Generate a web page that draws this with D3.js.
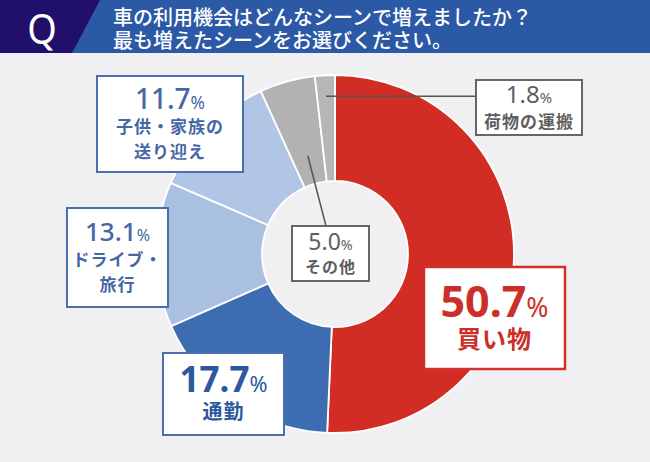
<!DOCTYPE html>
<html>
<head>
<meta charset="utf-8">
<script src="https://cdn.jsdelivr.net/npm/d3@7"></script>
<style>
  html, body { margin: 0; padding: 0; background: #f0f0f2; }
  svg { display: block; font-family: "Noto Sans CJK JP", "Noto Sans", sans-serif; }
</style>
</head>
<body>
<div id="chart"></div>
<script>
// data
var categories = ['買い物', '通勤', 'ドライブ・旅行', '子供・家族の送り迎え', 'その他', '荷物の運搬']
var values = [50.7, 17.7, 13.1, 11.7, 5.0, 1.8]
var labelLines = [['買い物'], ['通勤'], ['ドライブ・', '旅行'], ['子供・家族の', '送り迎え'], ['その他'], ['荷物の運搬']]
var titleLines = ['車の利用機会はどんなシーンで増えましたか？', '最も増えたシーンをお選びください。']

var colors = ['#d22d25', '#3e6cb2', '#a9c0e0', '#b1c5e4', '#b2b2b2', '#b6b6b6']

// label boxes: x, y, w, h, colours, font sizes
var boxes = [
    {x: 424, y: 267, w: 141, h: 102, stroke: '#d2302a', text: '#cc2f28', sw: 2.5, num: 43, numW: 700, txt: 24, lead: null},
    {x: 163, y: 353, w: 121, h: 82, stroke: '#4a6fae', text: '#2d579e', sw: 2, num: 35, numW: 700, txt: 20, lead: null},
    {x: 67, y: 208, w: 101, h: 99, stroke: '#4a6fae', text: '#4567a6', sw: 2, num: 26, numW: 500, txt: 17, lead: null},
    {x: 97, y: 76, w: 146, h: 96, stroke: '#4a6fae', text: '#4567a6', sw: 2, num: 28, numW: 500, txt: 17, lead: null},
    {x: 292, y: 226, w: 77, h: 55, stroke: '#666', text: '#5e5e5e', sw: 2, num: 23, numW: 400, txt: 16, lead: {r: 102, to: [326, 226]}},
    {x: 476, y: 80, w: 106, h: 55, stroke: '#666', text: '#5e5e5e', sw: 2, num: 24, numW: 400, txt: 17, lead: {r: 158, to: [476, null]}}
]

var width = 650
var height = 462
var cx = 335
var cy = 254
var outerR = 179
var innerR = 73

var svg = d3.select('#chart')
    .append('svg')
    .attr('width', width)
    .attr('height', height)

svg.append('rect')
    .attr('width', width)
    .attr('height', height)
    .attr('fill', '#f0f0f2')

// header band
svg.append('rect')
    .attr('x', 0)
    .attr('y', 0)
    .attr('width', width)
    .attr('height', 53)
    .attr('fill', '#2b59a5')
svg.append('path')
    .attr('d', 'M0,0 L100,0 L72,53 L0,53 Z')
    .attr('fill', '#21106a')
svg.append('text')
    .attr('x', 42)
    .attr('y', 44)
    .attr('text-anchor', 'middle')
    .attr('fill', '#fff')
    .attr('font-size', 42)
    .attr('font-family', 'Noto Sans, sans-serif')
    .attr('transform', 'translate(42, 44) scale(0.9, 1) translate(-42, -44)')
    .text('Q')
svg.selectAll('.title')
    .data(titleLines)
    .enter().append('text')
    .attr('class', 'title')
    .attr('x', 113)
    .attr('y', (d, i) => 25 + i * 23)
    .attr('fill', '#fff')
    .attr('font-size', 20)
    .attr('font-weight', 500)
    .text(d => d)

// donut
var pie = d3.pie().sort(null).value(d => d)
var arcs = pie(values)
var arc = d3.arc().innerRadius(innerR).outerRadius(outerR)

var g = svg.append('g')
    .attr('transform', `translate(${cx}, ${cy})`)

g.selectAll('path')
    .data(arcs)
    .enter().append('path')
    .attr('d', arc)
    .attr('fill', (d, i) => colors[i])
    .attr('stroke', '#fff')
    .attr('stroke-width', 1.8)

// leader lines
arcs.forEach((a, i) => {
    var b = boxes[i]
    if (!b.lead) return
    var mid = (a.startAngle + a.endAngle) / 2
    var x0 = cx + b.lead.r * Math.sin(mid)
    var y0 = cy - b.lead.r * Math.cos(mid)
    var x1 = b.lead.to[0]
    var y1 = b.lead.to[1] == null ? y0 : b.lead.to[1]
    svg.append('line')
        .attr('x1', x0).attr('y1', y0)
        .attr('x2', x1).attr('y2', y1)
        .attr('stroke', '#555')
        .attr('stroke-width', 1.5)
})

// label boxes
boxes.forEach((b, i) => {
    var lines = labelLines[i]
    var bg = svg.append('g')
    bg.append('rect')
        .attr('x', b.x)
        .attr('y', b.y)
        .attr('width', b.w)
        .attr('height', b.h)
        .attr('fill', '#fff')
        .attr('stroke', b.stroke)
        .attr('stroke-width', b.sw)

    var mx = b.x + b.w / 2
    var lineH = b.txt * 1.5
    var blockH = b.num * 0.78 + 8 + lines.length * lineH - (lineH - b.txt)
    var top = b.y + (b.h - blockH) / 2
    var numBase = top + b.num * 0.74

    var t = bg.append('text')
        .attr('x', mx)
        .attr('y', numBase)
        .attr('text-anchor', 'middle')
        .attr('fill', b.text)
        .attr('font-family', 'Noto Sans, sans-serif')
        .attr('font-weight', b.numW)
    t.append('tspan')
        .attr('font-size', b.num)
        .text(d3.format('.1f')(values[i]))
    t.append('tspan')
        .attr('font-size', b.num * 0.62)
        .attr('font-weight', 400)
        .text('%')

    lines.forEach((ln, j) => {
        bg.append('text')
            .attr('x', mx)
            .attr('y', numBase + 8 + b.txt * 0.95 + j * lineH)
            .attr('text-anchor', 'middle')
            .attr('fill', b.text)
            .attr('font-size', b.txt)
            .attr('font-weight', 700)
            .attr('letter-spacing', 1)
            .text(ln)
    })
})
</script>
</body>
</html>
